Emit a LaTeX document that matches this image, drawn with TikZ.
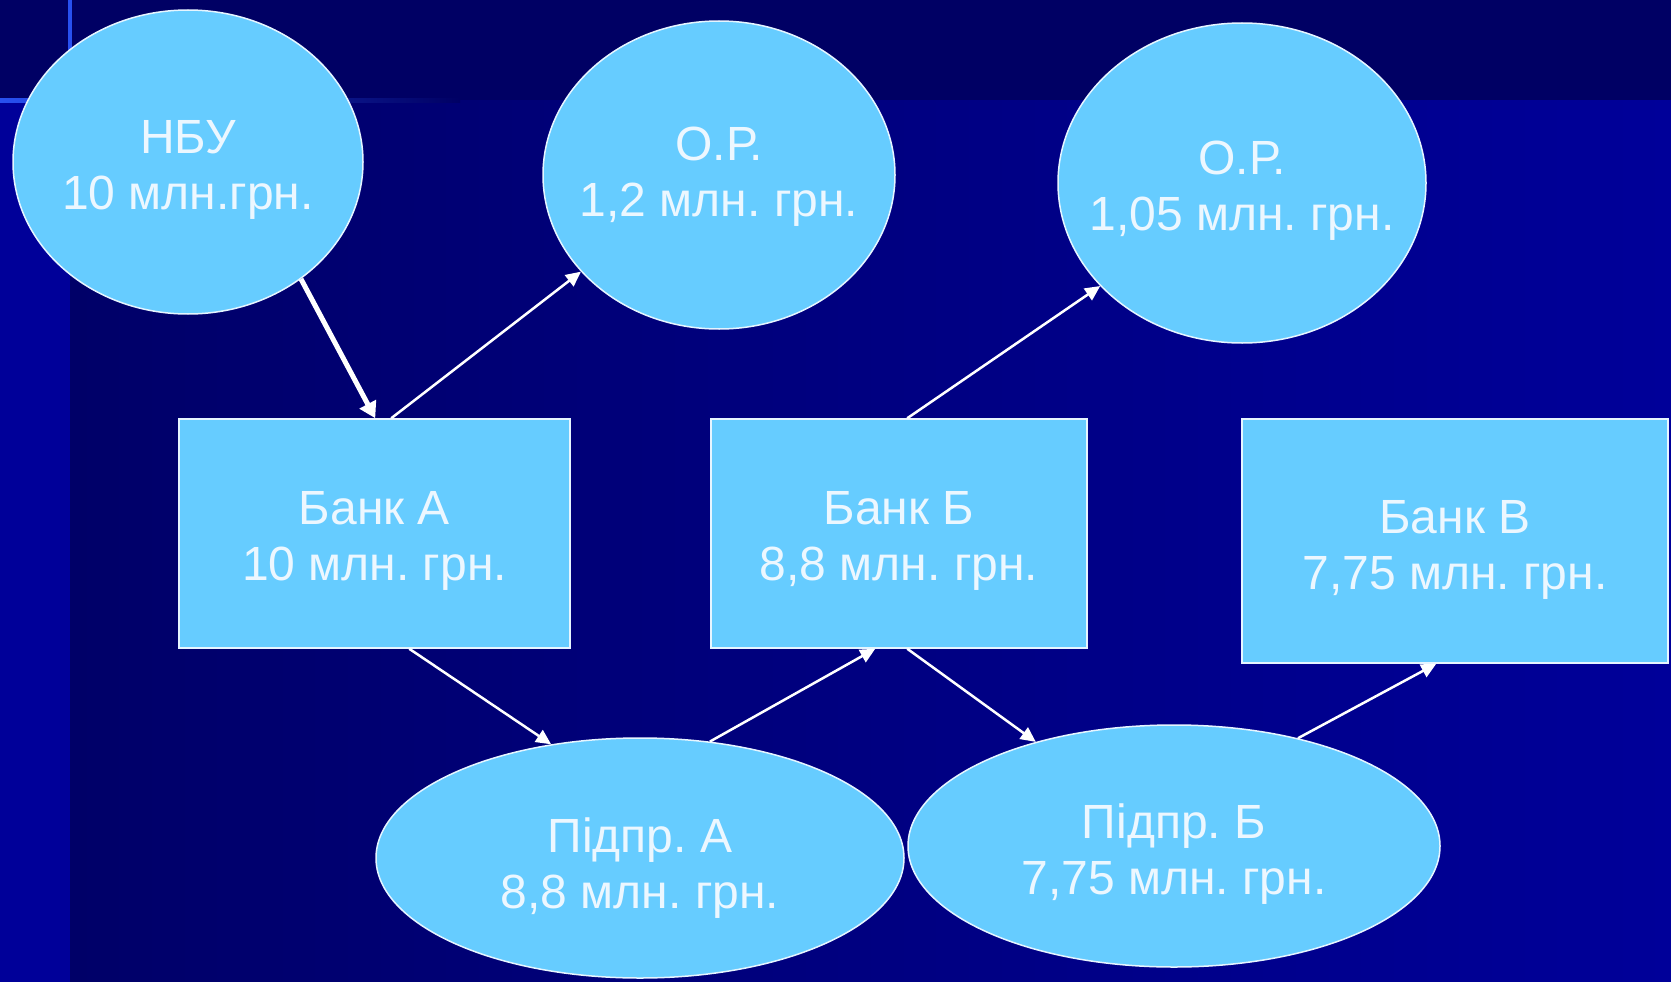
\documentclass[tikz,border=0pt]{standalone}
\usepackage{fontspec}
\setmainfont{Liberation Sans}
\usetikzlibrary{shapes.geometric,arrows.meta,calc}
\frenchspacing
\definecolor{topnavy}{RGB}{0,0,100}
\definecolor{darknavy}{RGB}{0,0,104}
\definecolor{brightnavy}{RGB}{0,0,153}
\definecolor{edgeblue}{RGB}{40,80,240}
\definecolor{nodefill}{RGB}{102,204,255}
\definecolor{nodetext}{RGB}{236,247,255}
\definecolor{nodeborder}{RGB}{230,245,255}
\newcommand\lowtext[2][8pt]{\raisebox{-#1}[\height][\depth]{\begin{tabular}{@{}c@{}}#2\end{tabular}}}
\tikzset{
  shapebase/.style={fill=nodefill, draw=nodeborder, line width=1.5pt, text=nodetext,
    font=\fontsize{48}{56}\selectfont},
  oval/.style={shapebase, ellipse, inner xsep=-60pt, inner ysep=-10pt},
  box/.style={shapebase, rectangle, inner sep=0pt},
  thinarrow/.style={draw=white, line width=2.5pt, -{Triangle[length=15pt,width=14pt]}},
  thickarrow/.style={draw=white, line width=5pt, -{Triangle[length=16pt,width=18pt]}}
}
\begin{document}
\begin{tikzpicture}[x=1pt,y=-1pt]
\useasboundingbox (0,0) rectangle (1671,982);
% background
\shade[left color=darknavy, right color=brightnavy] (70,100) rectangle (1671,982);
\fill[brightnavy] (0,100) rectangle (70,982);
\fill[topnavy] (0,0) rectangle (1671,100);
\fill[edgeblue] (68,0) rectangle (72,110);
\shade[left color=edgeblue, right color=topnavy] (0,98) rectangle (460,102);
% nodes
\node[oval, minimum width=350pt, minimum height=304pt] (nbu) at (188,162) {\lowtext{НБУ\\10 млн.грн.}};
\node[oval, minimum width=352pt, minimum height=308pt] (op1) at (719,175) {\lowtext[2pt]{О.Р.\\1,2 млн. грн.}};
\node[oval, minimum width=368pt, minimum height=320pt] (op2) at (1242,183) {\lowtext{О.Р.\\1,05 млн. грн.}};
\node[box, minimum width=391pt, minimum height=229pt] (bankA) at (374.5,533.5) {\lowtext{Банк А\\10 млн. грн.}};
\node[box, minimum width=376pt, minimum height=229pt] (bankB) at (899,533.5) {\lowtext{Банк Б\\8,8 млн. грн.}};
\node[box, minimum width=426pt, minimum height=244pt] (bankV) at (1455,541) {\lowtext[9pt]{Банк В\\7,75 млн. грн.}};
\node[oval, minimum width=528pt, minimum height=240pt] (pidA) at (640,858) {\lowtext[11pt]{Підпр. А\\8,8 млн. грн.}};
\node[oval, minimum width=532pt, minimum height=242pt] (pidB) at (1174,846) {\lowtext[9pt]{Підпр. Б\\7,75 млн. грн.}};
% connectors
\draw[thickarrow] (nbu.-46.5) -- ([xshift=197pt]bankA.north west);
\draw[thinarrow] ([xshift=213pt]bankA.north west) -- (op1.-145);
\draw[thinarrow] ([xshift=197pt]bankB.north west) -- (op2.-144);
\draw[thinarrow] ([xshift=231pt]bankA.south west) -- (pidA.128.7);
\draw[thinarrow] (pidA.59) -- ([xshift=165pt]bankB.south west);
\draw[thinarrow] ([xshift=197pt]bankB.south west) -- (pidB.143.5);
\draw[thinarrow] (pidB.41) -- ([xshift=195pt]bankV.south west);
\end{tikzpicture}
\end{document}
